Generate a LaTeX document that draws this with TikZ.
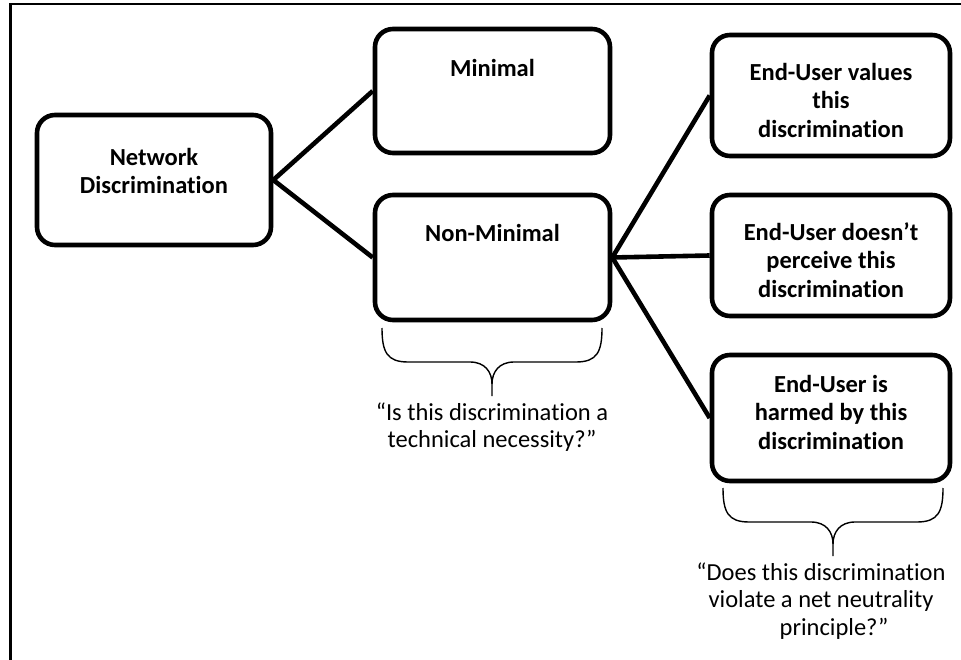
\documentclass[tikz,border=0pt]{standalone}
\usepackage{fontspec}
\setmainfont{Carlito}[Ligatures={NoCommon,NoContextual}]
\begin{document}
\begin{tikzpicture}[x=1pt,y=-1pt,
  box/.style={draw, line width=4.6pt, rounded corners=18pt, inner sep=0pt, minimum width=#1},
  box/.default=235pt,
  btext/.style={font=\fontsize{24.5}{28.5}\selectfont\bfseries, align=center, inner sep=0pt},
  qtext/.style={font=\fontsize{24.5}{27.7}\selectfont, align=center, inner sep=0pt},
  conn/.style={line width=4.6pt},
  qbrace/.pic={
    \draw[line width=1.4pt] (0,0) .. controls (0,24) and (5,34) .. (26,34) -- (88,34)
       .. controls (103,34) and (110,44) .. (110,56) -- (110,68);
    \draw[line width=1.4pt] (110,56) .. controls (110,44) and (117,34) .. (132,34) -- (194,34)
       .. controls (215,34) and (220,24) .. (220,0);
  }]
\useasboundingbox (0,0) rectangle (961,660);
% outer frame (cropped at right and bottom)
\draw[line width=2.2pt] (10.5,664) -- (10.5,4);
\draw[line width=1.2pt] (9.4,4) -- (965,4);

% boxes
\node[box=234pt, minimum height=130pt] (nd) at (154,180) {};
\node[box, minimum height=124pt] (mn) at (492.5,91) {};
\node[box, minimum height=125pt] (nm) at (492.5,257.5) {};
\node[box=238pt, minimum height=121pt] (r1) at (831,95.5) {};
\node[box=238pt, minimum height=121pt] (r2) at (831,255.5) {};
\node[box=238pt, minimum height=126pt] (r3) at (831,418) {};

% box texts
\node[btext] (ndt) at (154,171) {Network\\Discrimination};
\node[btext] (mnt) at (492.5,68) {Minimal};
\node[btext] (nmt) at (492.5,233) {Non-Minimal};
\node[btext] (r1t) at (831,100) {End-User values\\this\\discrimination};
\node[btext] (r2t) at (831,260) {End-User doesn’t\\perceive this\\discrimination};
\node[btext] (r3t) at (831,412) {End-User is\\harmed by this\\discrimination};

% connectors
\draw[conn] (nd.east) -- (mn.west);
\draw[conn] (nd.east) -- (nm.west);
\draw[conn] (nm.east) -- (r1.west);
\draw[conn] (nm.east) -- (r2.west);
\draw[conn] (nm.east) -- (r3.west);

% braces
\pic at (382,328) {qbrace};
\pic at (723,488) {qbrace};

% questions
\node[qtext] (q1) at (492,427) {“Is this discrimination a\\technical necessity?”};
\node[qtext] (q2) at (821,601) {“Does this discrimination\\violate a net neutrality\\\hspace*{26pt}principle?”};
\end{tikzpicture}
\end{document}
